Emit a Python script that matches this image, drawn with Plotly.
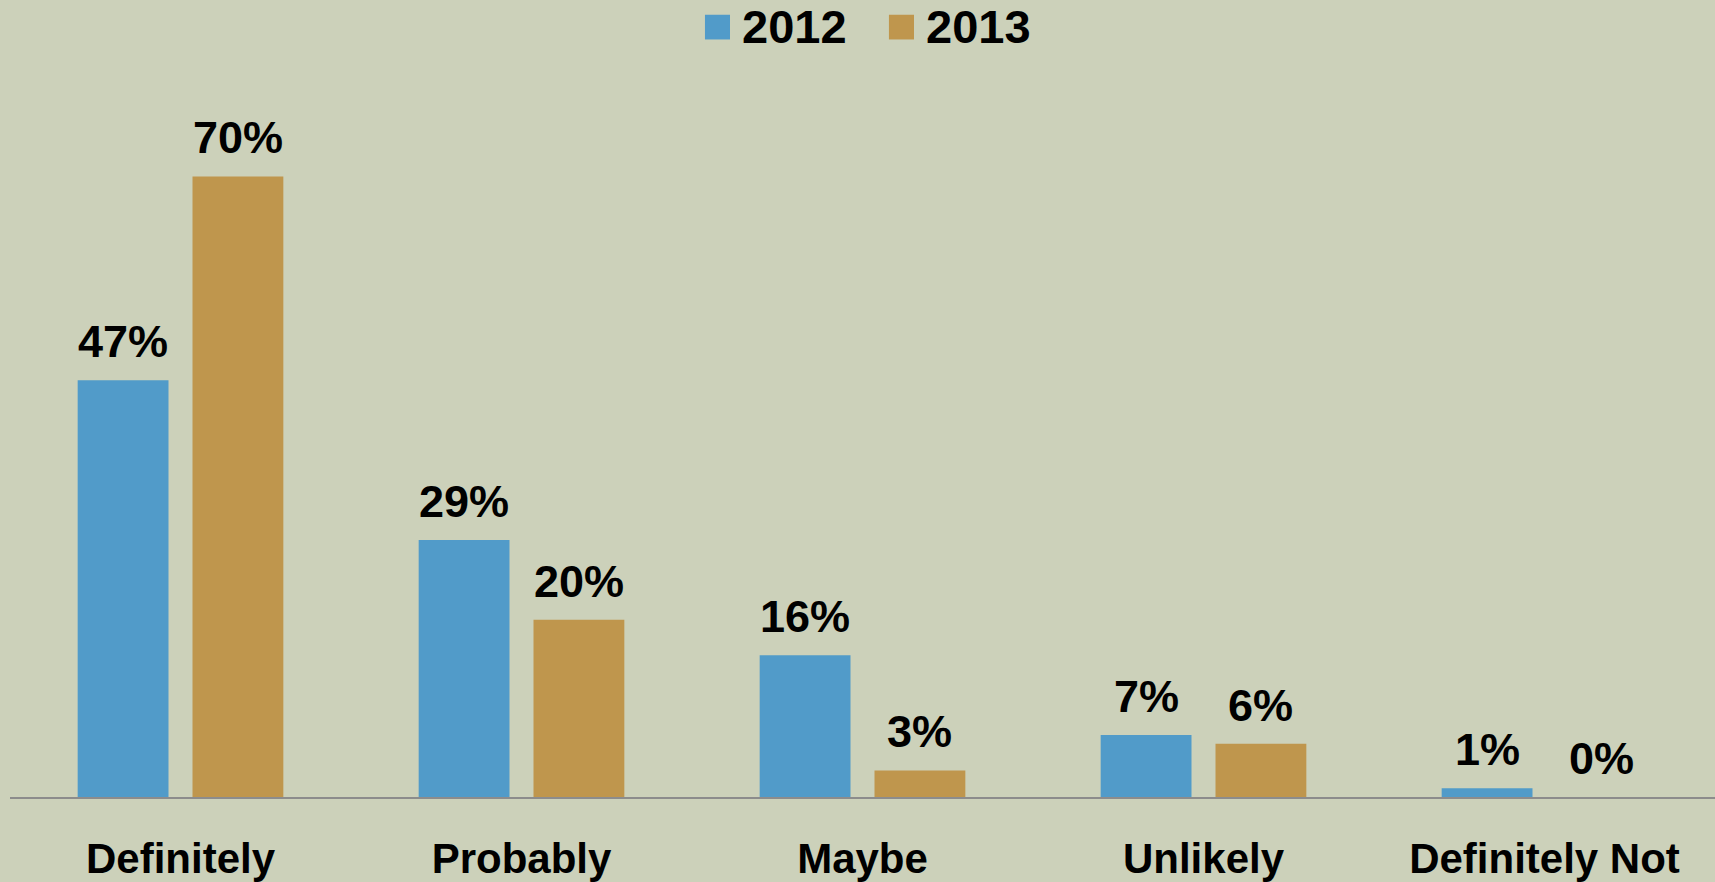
import plotly.graph_objects as go

categories = ["Definitely", "Probably", "Maybe", "Unlikely", "Definitely Not"]
years = ["2012", "2013"]
values_2012 = [47, 29, 16, 7, 1]
values_2013 = [70, 20, 3, 6, 0]

colors = {"2012": "#519BC9", "2013": "#BF964D"}
bg = "#CCD1BA"
font_family = "Liberation Sans, Arial, sans-serif"

BARGAP = 0.3265
BARGROUPGAP = 0.209

fig = go.Figure()
for year, vals in zip(years, [values_2012, values_2013]):
    fig.add_trace(go.Bar(
        x=categories, y=vals, name=year,
        marker=dict(color=colors[year], line=dict(width=0)),
        showlegend=False,
    ))

# value labels centred over each bar of the group
half_slot = (1 - BARGAP) / 4
annotations = []
for k, vals in enumerate([values_2012, values_2013]):
    off = -half_slot if k == 0 else half_slot
    for i, v in enumerate(vals):
        annotations.append(dict(
            x=i + off, y=v, xref="x", yref="y", text=f"{v}%",
            showarrow=False, yanchor="bottom", yshift=11,
            font=dict(family=font_family, size=45, color="#000000", weight="bold"),
        ))

# legend drawn as swatches plus labels above the plot
legend_items = [(0.4076, "2012"), (0.5155, "2013")]
shapes = []
for x0, year in legend_items:
    shapes.append(dict(
        type="rect", xref="paper", yref="paper",
        x0=x0, x1=x0 + 0.0147, y0=1.0420, y1=1.0760,
        fillcolor=colors[year], line=dict(width=0),
    ))
    annotations.append(dict(
        x=x0 + 0.0212, y=1.0610, xref="paper", yref="paper",
        text=year, showarrow=False, xanchor="left", yanchor="middle",
        height=44, valign="middle", borderpad=0,
        font=dict(family=font_family, size=47, color="#000000", weight="bold"),
    ))

fig.update_layout(
    width=1715, height=882,
    margin=dict(l=10, r=0, t=70, b=79),
    paper_bgcolor=bg, plot_bgcolor=bg,
    barmode="group", bargap=BARGAP, bargroupgap=BARGROUPGAP,
    annotations=annotations, shapes=shapes,
    xaxis=dict(
        showline=True, linecolor="#8C8C8C", linewidth=2,
        ticks="outside", ticklen=24, tickcolor="rgba(0,0,0,0)",
        tickfont=dict(family=font_family, size=42, color="#000000", weight="bold"),
        showgrid=False, zeroline=False,
    ),
    yaxis=dict(range=[0, 82.0], visible=False, showgrid=False, zeroline=False),
)

fig.write_html("out.html")
